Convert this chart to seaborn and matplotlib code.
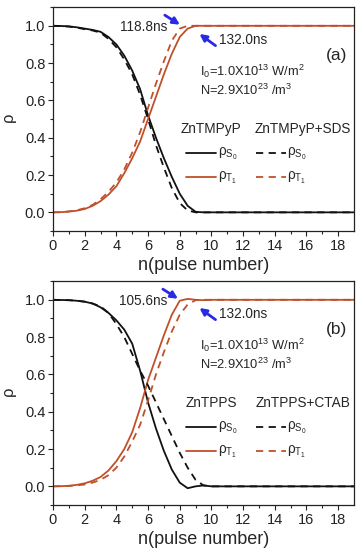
import seaborn as sns
import matplotlib.pyplot as plt
import pandas as pd

# pulse number samples
n = [0, 0.5, 1, 1.5, 2, 2.5, 3, 3.5, 4, 4.5, 5, 5.5, 6, 6.5, 7, 7.5, 8, 8.5, 9, 9.5, 10, 19]

# panel (a): ZnTMPyP (solid) and ZnTMPyP+SDS (dashed)
a_s0 = [1.0, 0.999, 0.997, 0.992, 0.985, 0.978, 0.968, 0.94, 0.90, 0.84, 0.76, 0.66, 0.52, 0.40, 0.29, 0.19, 0.10, 0.035, 0.003, 0.0, 0.0, 0.0]
a_t1 = [0.0, 0.001, 0.004, 0.009, 0.018, 0.035, 0.06, 0.095, 0.14, 0.21, 0.29, 0.38, 0.50, 0.62, 0.74, 0.85, 0.94, 0.985, 1.0, 1.0, 1.0, 1.0]
a_s0_sds = [1.0, 0.999, 0.996, 0.99, 0.982, 0.975, 0.963, 0.93, 0.885, 0.82, 0.74, 0.63, 0.50, 0.36, 0.24, 0.13, 0.05, 0.01, 0.0, 0.0, 0.0, 0.0]
a_t1_sds = [0.0, 0.001, 0.005, 0.011, 0.022, 0.04, 0.07, 0.11, 0.16, 0.23, 0.32, 0.43, 0.56, 0.69, 0.81, 0.92, 0.985, 1.0, 1.0, 1.0, 1.0, 1.0]

# panel (b): ZnTPPS (solid) and ZnTPPS+CTAB (dashed)
b_s0 = [1.0, 0.999, 0.998, 0.995, 0.99, 0.98, 0.96, 0.93, 0.89, 0.84, 0.765, 0.62, 0.45, 0.31, 0.19, 0.09, 0.02, -0.01, 0.0, 0.005, 0.0, 0.0]
b_t1 = [0.0, 0.001, 0.003, 0.008, 0.016, 0.03, 0.05, 0.085, 0.135, 0.20, 0.29, 0.42, 0.57, 0.69, 0.81, 0.92, 0.995, 1.005, 1.0, 0.998, 1.0, 1.0]
b_s0_ctab = [1.0, 0.999, 0.998, 0.995, 0.99, 0.98, 0.965, 0.93, 0.87, 0.80, 0.71, 0.62, 0.54, 0.45, 0.36, 0.27, 0.18, 0.10, 0.035, 0.005, 0.0, 0.0]
b_t1_ctab = [0.0, 0.001, 0.002, 0.005, 0.01, 0.02, 0.035, 0.06, 0.10, 0.16, 0.24, 0.33, 0.46, 0.60, 0.72, 0.83, 0.92, 0.975, 0.998, 1.0, 1.0, 1.0]

panels = [
    dict(s0=a_s0, t1=a_t1, s0d=a_s0_sds, t1d=a_t1_sds, tag="(a)",
         names=["ZnTMPyP", "ZnTMPyP+SDS"], t_short="118.8ns", x_short=8.16),
    dict(s0=b_s0, t1=b_t1, s0d=b_s0_ctab, t1d=b_t1_ctab, tag="(b)",
         names=["ZnTPPS", "ZnTPPS+CTAB"], t_short="105.6ns", x_short=8.04),
]

sns.set_style("ticks")
plt.rcParams['font.family'] = ['Liberation Sans', 'DejaVu Sans']
plt.rcParams['mathtext.fontset'] = 'custom'
plt.rcParams['mathtext.rm'] = 'Liberation Sans'
plt.rcParams['mathtext.it'] = 'Liberation Sans'

BLACK = "#111111"
ORANGE = "#c0502a"
BLUE = "#2a2ae6"
FS = 9.8

fig = plt.figure(figsize=(3.62, 5.5), dpi=100)
boxes = [[0.1464, 0.58, 0.8315, 0.407], [0.1464, 0.0818, 0.8315, 0.407]]

for box, p in zip(boxes, panels):
    ax = fig.add_axes(box)
    df = pd.DataFrame({"n": n, "s0": p["s0"], "t1": p["t1"], "s0d": p["s0d"], "t1d": p["t1d"]})
    sns.lineplot(data=df, x="n", y="s0", ax=ax, color=BLACK, lw=1.3)
    sns.lineplot(data=df, x="n", y="t1", ax=ax, color=ORANGE, lw=1.3)
    sns.lineplot(data=df, x="n", y="s0d", ax=ax, color=BLACK, lw=1.3, linestyle=(0, (4, 3)))
    sns.lineplot(data=df, x="n", y="t1d", ax=ax, color=ORANGE, lw=1.3, linestyle=(0, (4, 3)))

    ax.set_xlim(0, 19)
    ax.set_ylim(-0.1, 1.1)
    ax.set_xticks(range(0, 19, 2))
    ax.set_xticks(range(1, 19, 2), minor=True)
    ax.set_yticks([0.0, 0.2, 0.4, 0.6, 0.8, 1.0])
    ax.set_yticks([-0.1, 0.1, 0.3, 0.5, 0.7, 0.9, 1.1], minor=True)
    ax.set_yticklabels(["0.0", "0.2", "0.4", "0.6", "0.8", "1.0"])
    ax.tick_params(which="major", direction="out", length=3.5, width=0.8, labelsize=10.5, pad=2, colors="#222222")
    ax.tick_params(which="minor", direction="out", length=2, width=0.8)
    for s in ax.spines.values():
        s.set_linewidth(0.9)
        s.set_color("#222222")
    ax.set_xlabel("n(pulse number)", fontsize=13, labelpad=3)
    ax.set_ylabel(r"$\rho$", fontsize=12, labelpad=4)

    # time annotations with arrows
    ax.text(5.7, 0.995, p["t_short"], fontsize=FS, ha="center", va="center")
    ax.annotate("", xy=(p["x_short"], 0.998), xytext=(p["x_short"] - 1.25, 1.065),
                arrowprops=dict(arrowstyle="-|>", color=BLUE, lw=2, mutation_scale=10))
    ax.text(10.45, 0.925, "132.0ns", fontsize=FS, ha="left", va="center")
    ax.annotate("", xy=(9.1, 0.965), xytext=(10.4, 0.885),
                arrowprops=dict(arrowstyle="-|>", color=BLUE, lw=2, mutation_scale=10))

    ax.text(17.9, 0.84, p["tag"], fontsize=12.5, ha="center", va="center")
    ax.text(9.3, 0.755, r"I$_0$=1.0X10$^{13}$ W/m$^2$", fontsize=9.3, ha="left", va="center")
    ax.text(9.3, 0.655, r"N=2.9X10$^{23}$ /m$^3$", fontsize=9.3, ha="left", va="center")

    # hand-made legend
    ax.text(10.0, 0.445, p["names"][0], fontsize=FS, ha="center", va="center")
    ax.text(15.8, 0.445, p["names"][1], fontsize=FS, ha="center", va="center")
    rows = [(0.32, BLACK, r"$\rho_{S_0}$"), (0.19, ORANGE, r"$\rho_{T_1}$")]
    for yy, col, lab in rows:
        ax.plot([8.4, 10.3], [yy, yy], color=col, lw=1.3)
        ax.text(10.4, yy - 0.005, lab, fontsize=FS, ha="left", va="center")
        ax.plot([12.8, 14.7], [yy, yy], color=col, lw=1.3, linestyle=(0, (4, 3)))
        ax.text(14.8, yy - 0.005, lab, fontsize=FS, ha="left", va="center")

fig.savefig("out.png", dpi=100)
